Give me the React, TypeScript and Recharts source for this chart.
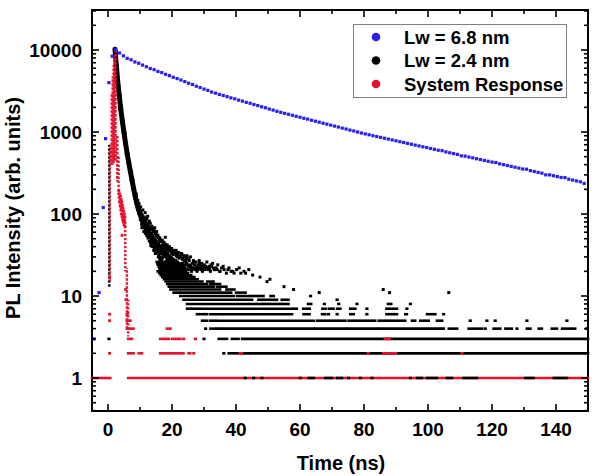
import { ScatterChart, Scatter, XAxis, YAxis, ReferenceLine, ReferenceArea } from 'recharts';

const FONT = '"Liberation Sans", Arial, Helvetica, sans-serif';
const BLUE = '#2a1ff0';
const RED = '#e8102a';
const BLACK = '#000000';

const W = 598;
const H = 476;
const PLOT = { left: 92, right: 588, top: 10, bottom: 411 };
const T_MIN = -5;
const T_MAX = 150;
const Y_MIN = 0.396;
const Y_MAX = 30760;

const xTicks = [0, 10, 20, 30, 40, 50, 60, 70, 80, 90, 100, 110, 120, 130, 140];
const xLabels = [0, 20, 40, 60, 80, 100, 120, 140];
const yLabels = [1, 10, 100, 1000, 10000];
const yTicks = [
  0.4, 0.5, 0.6, 0.7, 0.8, 0.9,
  1, 2, 3, 4, 5, 6, 7, 8, 9,
  10, 20, 30, 40, 50, 60, 70, 80, 90,
  100, 200, 300, 400, 500, 600, 700, 800, 900,
  1000, 2000, 3000, 4000, 5000, 6000, 7000, 8000, 9000,
  10000, 20000, 30000,
];

const legendNames = ['Lw = 6.8 nm', 'Lw = 2.4 nm', 'System Response'];

// Lw = 6.8 nm : [time ns, counts]
const blueCounts: [number, number][] = [
  [-4.4, 3], [-2.8, 11], [-1.5, 120], [-0.75, 830], [0.3, 4000], [1.3, 8400], [2.4, 10100],
  [3.6, 9200], [4.8, 8500], [6.0, 7900], [7.2, 7600], [8.4, 7150], [9.6, 6900], [10.8, 6550],
  [12.0, 6250], [13.2, 5950], [14.4, 5760], [15.6, 5480], [16.8, 5300], [18.0, 5050], [19.2, 4870],
  [20.4, 4650], [21.6, 4480], [22.8, 4300], [24.0, 4120], [25.2, 3940], [26.4, 3800], [27.6, 3620],
  [28.8, 3490], [30.0, 3340], [31.2, 3220], [32.4, 3070], [33.6, 2980], [34.8, 2870], [36.0, 2790],
  [37.2, 2700], [38.4, 2610], [39.6, 2540], [40.8, 2450], [42.0, 2385], [43.2, 2300], [44.4, 2240],
  [45.6, 2165], [46.8, 2100], [48.0, 2030], [49.2, 1975], [50.4, 1905], [51.6, 1850], [52.8, 1790],
  [54.0, 1740], [55.2, 1690], [56.4, 1645], [57.6, 1600], [58.8, 1555], [60.0, 1515], [61.2, 1470],
  [62.4, 1435], [63.6, 1390], [64.8, 1355], [66.0, 1318], [67.2, 1280], [68.4, 1248], [69.6, 1212],
  [70.8, 1180], [72.0, 1150], [73.2, 1115], [74.4, 1088], [75.6, 1055], [76.8, 1030], [78.0, 1000],
  [79.2, 972], [80.4, 948], [81.6, 925], [82.8, 902], [84.0, 880], [85.2, 860], [86.4, 840],
  [87.6, 820], [88.8, 800], [90.0, 782], [91.2, 762], [92.4, 745], [93.6, 727], [94.8, 710],
  [96.0, 692], [97.2, 676], [98.4, 660], [99.6, 646], [100.8, 630], [102.0, 615], [103.2, 600],
  [104.4, 592], [105.6, 572], [106.8, 558], [108.0, 545], [109.2, 533], [110.4, 512], [111.6, 508],
  [112.8, 495], [114.0, 484], [115.2, 472], [116.4, 461], [117.6, 450], [118.8, 440], [120.0, 430],
  [121.2, 425], [122.4, 409], [123.6, 400], [124.8, 390], [126.0, 381], [127.2, 372], [128.4, 363],
  [129.6, 354], [130.8, 352], [132.0, 338], [133.2, 330], [134.4, 322], [135.6, 315], [136.8, 300],
  [138.0, 300], [139.2, 293], [140.4, 286], [141.6, 279], [142.8, 278], [144.0, 266], [145.2, 259],
  [146.4, 253], [147.6, 247], [148.8, 236],
];

// Lw = 2.4 nm : main decay trace
const blackDecay: [number, number][] = [
  [2.2, 10200], [2.6, 6500], [3.0, 4300], [3.5, 2800], [4.0, 1900], [4.5, 1350], [5.0, 980],
  [5.5, 720], [6.0, 540], [6.5, 420], [7.0, 330], [7.5, 260], [8.0, 205], [8.5, 165], [9.0, 135],
  [9.5, 115], [10.0, 100], [10.5, 90], [11.0, 80], [11.5, 73], [12.0, 67], [13.0, 57], [14.0, 50],
  [15.0, 44], [16.0, 39], [17.0, 35], [18.0, 32], [19.0, 29], [20.0, 27], [22.0, 23], [24.0, 20],
];

// Lw = 2.4 nm : scattered channels in the tail
const blackScatter: [number, number][] = [
  [8.1, 190], [8.3, 172], [8.5, 158], [8.7, 142], [8.8, 176], [9.0, 128], [9.2, 117], [9.3, 146],
  [9.4, 122], [9.6, 104], [9.7, 134], [9.8, 109], [10.0, 94], [10.1, 86], [10.2, 99], [10.4, 83],
  [10.3, 106], [10.5, 75], [10.6, 91], [10.8, 79], [10.9, 71], [10.7, 97], [11.0, 85], [11.2, 69],
  [11.3, 77], [11.2, 61], [11.4, 79], [11.6, 65], [11.5, 89], [11.7, 58], [11.8, 73], [12.0, 62],
  [12.1, 55], [11.9, 81], [12.2, 68], [12.4, 59], [12.5, 51], [12.3, 76], [12.6, 64], [12.8, 56],
  [12.9, 47], [12.7, 71], [13.0, 61], [13.2, 52], [13.3, 45], [13.1, 67], [13.4, 41], [13.6, 57],
  [13.7, 49], [13.5, 43], [13.8, 64], [14.0, 54], [14.1, 47], [13.9, 40], [14.2, 61], [14.3, 36],
  [14.4, 51], [14.6, 44], [14.5, 38], [14.7, 57], [14.8, 33], [14.9, 48], [15.1, 42], [15.0, 36],
  [15.2, 54], [15.3, 46], [15.5, 40], [15.4, 34], [15.6, 51], [15.7, 30], [15.8, 44], [16.0, 38],
  [15.9, 32], [16.1, 49], [16.2, 28], [16.4, 41], [16.5, 35], [16.3, 30], [16.6, 46], [16.8, 27],
  [16.9, 39], [17.1, 33], [17.0, 29], [17.2, 44], [17.3, 25], [17.5, 37], [17.6, 31], [17.4, 41],
  [17.7, 24], [17.9, 35], [18.0, 30], [17.8, 40], [17.9, 52], [18.2, 34], [18.4, 28], [18.3, 38],
  [18.6, 23], [18.7, 33], [18.9, 28], [18.8, 37], [19.1, 31], [19.2, 26], [19.0, 36], [19.3, 22],
  [19.6, 30], [19.5, 25], [19.7, 35], [20.0, 29], [20.2, 24], [19.9, 33], [20.5, 28], [20.7, 23],
  [20.4, 32], [20.8, 36], [21.2, 27], [21.0, 23], [21.4, 31], [21.7, 26], [21.9, 22], [21.6, 30],
  [22.0, 34], [22.3, 25], [22.5, 21], [22.2, 29], [23.0, 24], [22.8, 21], [23.2, 28], [23.1, 32],
  [23.6, 23], [23.8, 27], [24.1, 22], [24.3, 26], [24.0, 30], [24.7, 31], [24.9, 21], [24.6, 25],
  [25.3, 21], [25.5, 24], [25.2, 28], [26.1, 20], [25.9, 23], [26.5, 22], [26.8, 26], [27.3, 21],
  [27.0, 24], [27.9, 23], [27.6, 21], [28.3, 22], [28.6, 25], [29.1, 21], [29.5, 20], [29.8, 23],
  [30.4, 22], [31.2, 21], [32.0, 20], [32.2, 24], [33.0, 22], [34.1, 21], [35.0, 20], [36.0, 23],
  [37.5, 21], [39.0, 20], [41.0, 22], [43.0, 19], [44.0, 21], [49.7, 15], [106.5, 11],
  [10.2, 122], [10.6, 68], [10.9, 112], [11.3, 92], [11.6, 104], [11.8, 66], [12.1, 88], [12.4, 94],
  [12.6, 53], [12.9, 82], [13.2, 77], [13.4, 58], [13.7, 71], [13.9, 66], [14.1, 44], [14.4, 63],
  [14.6, 68], [14.8, 41], [15.0, 58], [15.2, 61], [15.4, 37], [15.6, 55], [15.8, 52], [16.0, 35],
  [16.2, 51], [16.4, 47], [16.6, 33], [16.9, 48], [17.1, 46], [17.3, 31], [17.5, 45], [17.8, 43],
  [18.0, 26], [18.2, 41], [18.5, 42], [18.7, 25], [18.9, 39], [19.2, 40], [19.4, 24], [19.6, 37],
  [19.9, 38], [20.1, 23], [20.3, 35], [20.6, 34], [20.9, 22], [21.1, 33], [21.3, 36], [21.6, 21],
  [21.8, 32], [22.1, 31], [22.4, 24], [22.7, 30], [23.0, 33], [23.3, 25], [23.5, 29], [23.8, 31],
  [24.2, 24], [24.5, 28], [24.8, 29], [25.1, 23], [25.4, 27], [25.8, 30], [26.1, 22], [26.4, 25],
  [26.7, 27], [27.1, 24], [27.5, 26], [27.8, 20], [28.2, 24], [28.5, 27], [28.9, 22], [29.3, 25],
  [29.7, 21], [30.1, 24], [30.5, 23], [30.9, 26], [31.4, 22], [31.8, 21], [32.3, 23], [32.7, 25],
  [33.2, 21], [33.8, 22], [34.3, 24], [34.9, 20], [35.5, 22], [36.3, 21], [37.0, 19], [37.8, 22],
  [38.5, 20], [39.4, 19], [40.2, 21], [41.5, 19], [42.5, 20], [45.2, 18], [47.5, 17], [50.6, 16],
  [55.0, 13], [58.0, 12], [66.0, 11], [86.0, 12], [88.0, 11],
  [26.3, 21], [27.4, 22], [28.1, 21], [29.0, 23], [30.2, 21], [30.8, 22], [31.6, 23], [33.5, 21],
];

// Lw = 2.4 nm : runs of consecutive channels sitting on one count level [counts, from, to]
const blackRuns: [number, number, number][] = [
  [2, 36.1, 36.3], [2, 37.7, 41.3], [2, 41.9, 150],
  [3, 0.2, 0.4], [3, 29.9, 30.1], [3, 34.6, 37.2], [3, 38.7, 40.8], [3, 41.9, 150],
  [4, 30.4, 30.6], [4, 32, 33.5], [4, 34, 64.3], [4, 64.8, 74.2], [4, 74.7, 84.1], [4, 84.6, 104.9],
  [4, 106.5, 109.1], [4, 112.7, 116.9], [4, 117.8, 118], [4, 120.5, 122.6], [4, 124.2, 126.2],
  [4, 127.7, 127.9], [4, 130.9, 132], [4, 134.6, 135.6], [4, 138.7, 140.3], [4, 141.9, 146],
  [4, 149.5, 149.7],
  [5, 29.4, 31], [5, 32, 33.5], [5, 34, 64.3], [5, 65.3, 74.2], [5, 75.2, 83.5], [5, 84.6, 92.9],
  [5, 95, 96], [5, 97.6, 100.2], [5, 102.8, 104.4], [5, 113.1, 113.3], [5, 118.3, 118.5],
  [5, 120.9, 121.1], [5, 130.8, 131], [5, 143.3, 143.5],
  [6, 27.8, 31], [6, 32, 57.5], [6, 61.1, 63], [6, 66.9, 67.9], [6, 68.8, 69], [6, 71.5, 71.7],
  [6, 75.7, 76.8], [6, 80.8, 81], [6, 87, 90.3], [6, 92.9, 93.4], [6, 99.7, 102.3], [6, 104.8, 105],
  [7, 24.7, 25.7], [7, 26.2, 28.8], [7, 29.4, 57.5], [7, 58, 59], [7, 61, 63], [7, 67, 68],
  [7, 69, 70.5], [7, 71.6, 72.6], [7, 75.7, 77.3], [7, 80.8, 81], [7, 87, 90.3], [7, 93.3, 93.5],
  [8, 24.7, 48], [8, 48.5, 56.4], [8, 62.5, 63.5], [8, 67.5, 67.7], [8, 72, 72.2], [8, 77.7, 77.9],
  [8, 87.5, 88.5], [8, 94.4, 94.6],
  [9, 23.6, 45], [9, 47, 52.8], [9, 54.3, 56.4], [9, 71.5, 71.7],
  [10, 22.6, 39.3], [10, 40.3, 48.6], [10, 50.8, 51.8], [10, 63.2, 63.4],
  [11, 20.5, 38.5], [11, 40, 43],
  [12, 19.5, 35], [12, 37, 39.5],
  [13, 19, 33], [13, 34, 37],
  [14, 18.5, 31], [14, 32, 35],
  [15, 18, 29.5], [15, 31, 33],
  [16, 17.5, 28], [17, 17, 27], [18, 16.5, 26], [19, 16, 25], [20, 15.5, 24],
  [21, 16.2, 23], [22, 16, 22], [23, 15.8, 21], [24, 15.6, 20], [25, 15.4, 19], [26, 15.2, 18.5],
  [1, 42.8, 43], [1, 45.4, 45.6], [1, 48, 48.2], [1, 60, 60.2], [1, 62.7, 64.3], [1, 67.9, 70],
  [1, 71.6, 73.1], [1, 75.1, 75.3], [1, 78.8, 79], [1, 82.4, 82.6], [1, 94.4, 94.6], [1, 96.6, 98.1],
  [1, 99.7, 102.8], [1, 105.9, 107.5], [1, 111.1, 115.3], [1, 130.4, 133], [1, 139.3, 143.4],
];

// Lw = 2.4 nm : rising edge channels [time, low, high]
const blackColumns: [number, number, number][] = [[0.4, 13, 700]];

// System response : rising edge and fall, channels stacked per time [time, low, high]
const redColumns: [number, number, number][] = [
  [0.6, 15, 600], [0.85, 400, 700], [1.15, 400, 2900], [1.45, 400, 4800], [1.75, 420, 6500],
  [2.05, 450, 8800], [2.35, 450, 10300], [2.9, 250, 900], [3.3, 170, 500], [5.4, 20, 85],
  [5.9, 4, 22], [6.3, 3.2, 9],
];

// System response : after-pulse cluster and isolated channels
const redScatter: [number, number][] = [
  [3.4, 190], [3.5, 160], [3.6, 175], [3.6, 140], [3.8, 150], [3.8, 125], [3.9, 165], [4.0, 135],
  [4.0, 112], [4.1, 150], [4.2, 120], [4.2, 100], [4.3, 140], [4.4, 110], [4.4, 92], [4.4, 55],
  [4.5, 128], [4.6, 100], [4.6, 85], [4.7, 118], [4.8, 95], [4.8, 80], [4.9, 108], [5.0, 88],
  [5.0, 74], [5.1, 100], [5.2, 82], [5.3, 70], [5.3, 92],
  [0.5, 17], [0.5, 6], [0.5, 5], [0.5, 2], [5.5, 12], [5.6, 9],
];

// System response : level runs, the 1-count floor drawn first
const redFloor: [number, number, number][] = [[1, -5, 0.7], [1, 6.3, 150]];
const redRuns: [number, number, number][] = [
  [2, 6.3, 8], [2, 9.6, 10.6], [2, 16.3, 23.6], [2, 25.2, 25.7], [2, 26.7, 26.9], [2, 41.2, 41.9],
  [2, 81.2, 81.4], [2, 86, 90], [2, 110.5, 110.7],
  [3, 6.3, 7.5], [3, 16.3, 19], [3, 20, 22.6], [3, 23.5, 23.7], [3, 27.2, 27.4], [3, 86.5, 88],
  [4, 5.9, 8], [4, 18.4, 19.5], [5, 5.9, 7], [6, 5.9, 6.1],
];

const toPoints = (rows: [number, number][]) => rows.map(([t, v]) => ({ t, v }));

const square = (size: number, color: string) => (p: any) =>
  <rect x={p.cx - size / 2} y={p.cy - size / 2} width={size} height={size} fill={color} />;

function renderXTick(props: any) {
  const { x, payload } = props;
  const major = xLabels.includes(payload.value);
  const len = major ? 7 : 4;
  return (
    <g>
      <line x1={x} x2={x} y1={PLOT.bottom} y2={PLOT.bottom - len} stroke="#000" strokeWidth={1.6} />
      <line x1={x} x2={x} y1={PLOT.top} y2={PLOT.top + len} stroke="#000" strokeWidth={1.6} />
      {major && (
        <text x={x} y={436} textAnchor="middle" fontFamily={FONT} fontWeight="bold" fontSize={19} fill="#000">
          {payload.value}
        </text>
      )}
    </g>
  );
}

function renderYTick(props: any) {
  const { y, payload } = props;
  const major = yLabels.includes(payload.value);
  const len = major ? 7 : 4;
  return (
    <g>
      <line x1={PLOT.left} x2={PLOT.left + len} y1={y} y2={y} stroke="#000" strokeWidth={1.6} />
      <line x1={PLOT.right} x2={PLOT.right - len} y1={y} y2={y} stroke="#000" strokeWidth={1.6} />
      {major && (
        <text x={82} y={y + 6.8} textAnchor="end" fontFamily={FONT} fontWeight="bold" fontSize={19} fill="#000">
          {payload.value}
        </text>
      )}
    </g>
  );
}

function runLines(rows: [number, number, number][], color: string, key: string) {
  return rows.map(([lvl, t0, t1], i) => (
    <ReferenceLine
      key={`${key}-${i}`}
      segment={[{ x: t0, y: lvl }, { x: t1, y: lvl }]}
      stroke={color}
      strokeWidth={2.6}
      strokeLinecap="square"
      ifOverflow="visible"
    />
  ));
}

function columnLines(rows: [number, number, number][], color: string, key: string) {
  return rows.map(([t, lo, hi], i) => (
    <ReferenceLine
      key={`${key}-${i}`}
      segment={[{ x: t, y: lo }, { x: t, y: hi }]}
      stroke={color}
      strokeWidth={2.4}
      strokeDasharray="2.4 1.6"
      strokeDashoffset={i % 2}
      ifOverflow="visible"
    />
  ));
}

function LegendBox() {
  const colors = [BLUE, BLACK, RED];
  return (
    <svg width={W} height={H} style={{ position: 'absolute', left: 0, top: 0, pointerEvents: 'none' }}>
      <rect x={353.5} y={24.5} width={213} height={73} fill="#fff" stroke="#808080" strokeWidth={1} />
      {legendNames.map((name, i) => (
        <g key={name}>
          <circle cx={376} cy={37 + i * 23.5} r={4.3} fill={colors[i]} />
          <text x={404} y={43.5 + i * 23.5} fontFamily={FONT} fontWeight="bold" fontSize={18.5} fill="#000">
            {name}
          </text>
        </g>
      ))}
    </svg>
  );
}

export default function App() {
  return (
    <div style={{ position: 'absolute', left: 0, top: 0, width: W, height: H, background: '#fff' }}>
      <ScatterChart
        width={W}
        height={H}
        margin={{ top: PLOT.top, right: W - PLOT.right, bottom: 0, left: 0 }}
      >
        <XAxis
          dataKey="t"
          type="number"
          domain={[T_MIN, T_MAX]}
          allowDataOverflow
          ticks={xTicks}
          interval={0}
          tick={renderXTick}
          tickLine={false}
          axisLine={false}
          height={H - PLOT.bottom}
          label={{
            content: () => (
              <text x={341} y={470} textAnchor="middle" fontFamily={FONT} fontWeight="bold" fontSize={20} fill="#000">
                Time (ns)
              </text>
            ),
          }}
        />
        <YAxis
          dataKey="v"
          type="number"
          scale="log"
          domain={[Y_MIN, Y_MAX]}
          allowDataOverflow
          ticks={yTicks}
          interval={0}
          tick={renderYTick}
          tickLine={false}
          axisLine={false}
          width={PLOT.left}
          label={{
            content: () => (
              <text
                transform="translate(20,208) rotate(-90)"
                textAnchor="middle"
                fontFamily={FONT}
                fontWeight="bold"
                fontSize={20}
                fill="#000"
              >
                PL Intensity (arb. units)
              </text>
            ),
          }}
        />

        {runLines(redFloor, RED, 'rf')}
        {runLines(blackRuns, BLACK, 'br')}
        {columnLines(blackColumns, BLACK, 'bc')}
        {blackDecay.slice(1).map(([t, v], i) => (
          <ReferenceLine
            key={`bd-${i}`}
            segment={[{ x: blackDecay[i][0], y: blackDecay[i][1] }, { x: t, y: v }]}
            stroke={BLACK}
            strokeWidth={5}
            strokeLinecap="round"
            ifOverflow="visible"
          />
        ))}
        {columnLines(redColumns, RED, 'rc')}
        {runLines(redRuns, RED, 'rr')}

        <Scatter data={toPoints(blackScatter)} shape={square(3, BLACK)} isAnimationActive={false} />
        <Scatter data={toPoints(redScatter)} shape={square(2.8, RED)} isAnimationActive={false} />
        <Scatter data={toPoints(blueCounts)} shape={square(3.2, BLUE)} isAnimationActive={false} />

        <ReferenceArea
          x1={T_MIN}
          x2={T_MAX}
          y1={Y_MIN}
          y2={Y_MAX}
          fill="none"
          stroke="#000"
          strokeWidth={2}
          ifOverflow="visible"
        />
      </ScatterChart>
      <LegendBox />
    </div>
  );
}
